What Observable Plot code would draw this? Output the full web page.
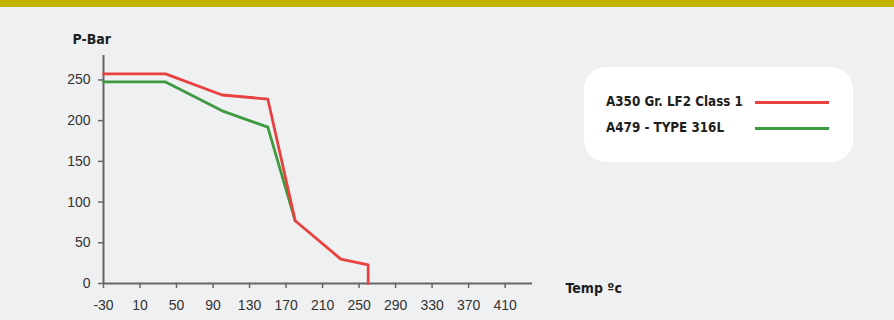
<!DOCTYPE html>
<html>
<head>
<meta charset="utf-8">
<script src="https://cdn.jsdelivr.net/npm/d3@7"></script>
<script src="https://cdn.jsdelivr.net/npm/@observablehq/plot@0.6"></script>
<style>
  html, body { margin: 0; padding: 0; background: #eff0f2; }
  #wrap { position: relative; width: 894px; height: 320px; overflow: hidden; background: #eff0f2; }
  #topbar { position: absolute; left: 0; top: 0; width: 894px; height: 7px; background: #c4b400; }
  #chart { position: absolute; left: 0; top: 0; }
  #legend { position: absolute; left: 584px; top: 67px; width: 269px; height: 95px; background: #ffffff; border-radius: 22px;
    font-family: "Liberation Sans Narrow", "DejaVu Sans Condensed", "Liberation Sans", Arial, sans-serif; font-weight: bold; font-size: 13.3px; color: #1e1e1e; }
  .item { position: absolute; left: 22px; height: 16px; line-height: 16px; white-space: nowrap; }
  .swatch { position: absolute; left: 171px; width: 74px; height: 3px; }
</style>
</head>
<body>
<div id="wrap">
  <div id="chart"></div>
  <div id="topbar"></div>
  <div id="legend"></div>
</div>
<script>
// Data
const seriesNames = ["A350 Gr. LF2 Class 1", "A479 - TYPE 316L"];
const seriesColors = ["#e8413f", "#3e9a40"];
const lf2Temp = [-30, 38, 100, 150, 180, 230, 260, 260];
const lf2Bar  = [257.5, 257.5, 231.5, 226.5, 77, 30, 23, 0];
const ssTemp  = [-30, 38, 100, 150, 180];
const ssBar   = [247.5, 247.5, 212, 192, 77];
const xTicks = [-30, 10, 50, 90, 130, 170, 210, 250, 290, 330, 370, 410];
const yTicks = [0, 50, 100, 150, 200, 250];

const lf2 = lf2Temp.map((t, i) => ({t, p: lf2Bar[i]}));
const ss = ssTemp.map((t, i) => ({t, p: ssBar[i]}));

const font = "\"Liberation Sans\", Arial, sans-serif";
const boldFont = "\"Liberation Sans Narrow\", \"DejaVu Sans Condensed\", \"Liberation Sans\", Arial, sans-serif";

const chart = Plot.plot({
  width: 894,
  height: 320,
  marginLeft: 103,
  marginRight: 362,
  marginTop: 55,
  marginBottom: 37,
  style: { background: "transparent", fontFamily: font, fontSize: "14px", color: "#333" },
  x: { domain: [-30, 440], label: null },
  y: { domain: [0, 280], label: null },
  marks: [
    Plot.axisX({ ticks: xTicks, tickFormat: d => String(d), tickSize: 5, tickPadding: 12, stroke: "#666", strokeWidth: 1.5, fill: "#333", label: null }),
    Plot.axisY({ ticks: yTicks, tickFormat: d => String(d), tickSize: 5, tickPadding: 8, stroke: "#666", strokeWidth: 1.5, fill: "#333", label: null }),
    Plot.ruleY([0], { stroke: "#666", strokeWidth: 2 }),
    Plot.ruleX([-30], { stroke: "#666", strokeWidth: 2 }),
    Plot.line(ss, { x: "t", y: "p", stroke: seriesColors[1], strokeWidth: 2.8 }),
    Plot.line(lf2, { x: "t", y: "p", stroke: seriesColors[0], strokeWidth: 2.8 }),
    Plot.text(["P-Bar"], { frameAnchor: "top-left", dx: -31, dy: -16, textAnchor: "start", lineAnchor: "middle",
      fontWeight: "bold", fontSize: 14, fill: "#1e1e1e", fontFamily: boldFont }),
    Plot.text(["Temp ºc"], { frameAnchor: "bottom-right", dx: 33, dy: 5, textAnchor: "start", lineAnchor: "middle",
      fontWeight: "bold", fontSize: 14, fill: "#1e1e1e", fontFamily: boldFont })
  ]
});
document.getElementById("chart").appendChild(chart);

const legend = document.getElementById("legend");
seriesNames.forEach((name, i) => {
  const item = document.createElement("div");
  item.className = "item";
  item.style.top = (27 + i * 26) + "px";
  item.textContent = name;
  legend.appendChild(item);
  const sw = document.createElement("div");
  sw.className = "swatch";
  sw.style.top = (34 + i * 26) + "px";
  sw.style.background = seriesColors[i];
  legend.appendChild(sw);
});
</script>
</body>
</html>
